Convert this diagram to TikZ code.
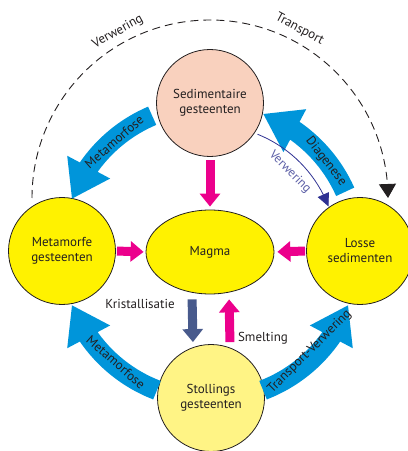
\documentclass[tikz,border=0pt]{standalone}
\usepackage{fontspec}
\setmainfont{PT Sans}
\usepackage{xcolor}
\usetikzlibrary{arrows.meta,bending,shapes.geometric}

\definecolor{rockline}{HTML}{231F20}
\definecolor{rockyellow}{HTML}{FFF200}
\definecolor{stolyellow}{HTML}{FFF485}
\definecolor{sedpeach}{HTML}{F9D1BE}
\definecolor{flowblue}{HTML}{0095DA}
\definecolor{magpink}{HTML}{EC008C}
\definecolor{kristblue}{HTML}{485A8C}
\definecolor{verwnavy}{HTML}{2E3192}
\definecolor{verwtext}{HTML}{5B5EA6}

\begin{document}
\begin{tikzpicture}[x=1pt, y=1pt,
  rock/.style={circle, draw=rockline, line width=0.8pt, minimum size=107pt,
    inner sep=0pt, align=center, text=rockline, font=\fontsize{13}{15}\selectfont},
  flow/.style={flowblue, line width=20pt, -{Triangle[width=46pt,length=36pt]}},
  push/.style={magpink, line width=9pt, -{Triangle[width=20pt,length=13pt]}},
  flowlabel/.style={text=rockline, inner sep=0pt, font=\fontsize{13}{15}\selectfont}]

  \useasboundingbox (0,0) rectangle (408,451);

  % Rocks
  \node[rock, fill=sedpeach] (sed) at (210,348) {Sedimentaire\\gesteenten};
  \node[rock, fill=rockyellow] (met) at (62,200) {Metamorfe\\gesteenten};
  \node[rock, fill=rockyellow] (losse) at (360,200) {Losse\\sedimenten};
  \node[rock, fill=stolyellow] (stol) at (211,53) {Stollings\\gesteenten};
  \node[ellipse, draw=rockline, line width=0.8pt, fill=rockyellow, minimum width=128pt,
    minimum height=84pt, text=rockline, font=\fontsize{13}{15}\selectfont] (magma) at (210,199) {Magma};
  \coordinate (hub) at (210,199);
  \coordinate (top) at (210,253);

  % Verwering - transport (dashed)
  \draw[rockline, line width=0.9pt, dash pattern=on 8pt off 5pt,
    -{Triangle[width=17pt,length=14pt]}]
    ([shift={(180:178pt)}]top) arc[start angle=180, end angle=0, radius=178pt];
  \node[flowlabel, rotate=29] at ([shift={(119:190pt)}]top) {Verwering};
  \node[flowlabel, rotate=-28] at ([shift={(62:191pt)}]top) {Transport};

  % Big blue cycle
  \draw[flow] ([shift={(113:148pt)}]hub) arc[start angle=113, end angle=159, radius=148pt];
  \draw[flow] ([shift={(24:148pt)}]hub) arc[start angle=24, end angle=69, radius=148pt];
  \draw[flow] ([shift={(249:148pt)}]hub) arc[start angle=249, end angle=201, radius=148pt];
  \draw[flow] ([shift={(291:148pt)}]hub) arc[start angle=291, end angle=339, radius=148pt];
  \node[flowlabel, rotate=41] at ([shift={(131:146pt)}]hub) {Metamorfose};
  \node[flowlabel, rotate=-52] at ([shift={(38:147pt)}]hub) {Diagenese};
  \node[flowlabel, rotate=-41] at ([shift={(229.5:145pt)}]hub) {Metamorfose};
  \node[flowlabel, rotate=45] at ([shift={(-45:141pt)}]hub) {Transport-Verwering};

  % thin verwering
  \draw[verwnavy, line width=0.8pt, -{Triangle[width=12pt,length=13pt]}]
    ([shift={(68:127pt)}]hub) arc[start angle=68, end angle=21, radius=127pt];
  \node[text=verwtext, inner sep=0pt, font=\fontsize{12.5}{14}\selectfont, rotate=-45]
    at ([shift={(45:113pt)}]hub) {Verwering};

  % into magma
  \draw[push, shorten <=3pt, shorten >=3pt] (sed.south) -- (magma.north);
  \draw[push, shorten <=1pt, shorten >=2pt] (met.east) -- (magma.west);
  \draw[push, shorten <=1pt, shorten >=3pt] (losse.west) -- (magma.east);

  % kristallisatie / smelting
  \draw[kristblue, line width=9pt, -{Triangle[width=20pt,length=13pt]},
    shorten <=5pt, shorten >=2pt] ([xshift=-18pt]magma.south) -- ([xshift=-18pt]stol.north);
  \draw[push, shorten <=2pt, shorten >=5pt] ([xshift=19pt]stol.north) -- ([xshift=19pt]magma.south);
  \node[flowlabel] at (140,147) {Kristallisatie};
  \node[flowlabel] at (263,113) {Smelting};

\end{tikzpicture}
\end{document}
